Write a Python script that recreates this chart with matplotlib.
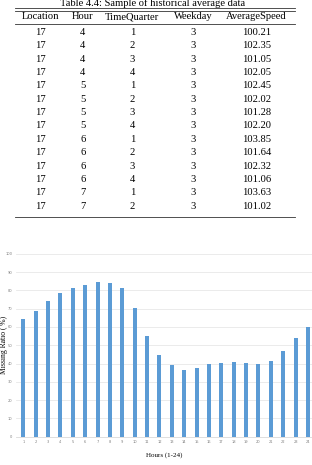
import numpy as np
import matplotlib
matplotlib.use("Agg")
import matplotlib.pyplot as plt
from matplotlib.lines import Line2D

# ==========================
# Table data
# ==========================
col_names = ["Location", "Hour", "TimeQuarter", "Weekday", "AverageSpeed"]
location = [17] * 14
hour = [4, 4, 4, 4, 5, 5, 5, 5, 6, 6, 6, 6, 7, 7]
quarter = [1, 2, 3, 4, 1, 2, 3, 4, 1, 2, 3, 4, 1, 2]
weekday = [3] * 14
avg_speed = ["100.21", "102.35", "101.05", "102.05", "102.45", "102.02", "101.28",
             "102.20", "103.85", "101.64", "102.32", "101.06", "103.63", "101.02"]

# ==========================
# Bar chart data
# ==========================
hours = np.arange(1, 25)
missing_ratio = [64.5, 68.9, 74.0, 78.5, 81.4, 83.1, 84.7, 84.2, 81.3, 70.3, 54.9, 44.6,
                 39.0, 36.6, 37.7, 39.9, 40.1, 40.8, 40.4, 39.9, 41.4, 46.7, 53.9, 60.1]

bar_blue = "#5B9BD5"
grid_gray = "#e8e8e8"
tick_gray = "#808080"
serif = ["Liberation Serif", "DejaVu Serif"]

W, H = 312, 465
fig = plt.figure(figsize=(W / 100, H / 100), dpi=100)


def fy(py):
    return 1 - py / H


def fx(px):
    return px / W


def hrule(py, x0=15, x1=295, lw=0.6):
    fig.add_artist(Line2D([fx(x0), fx(x1)], [fy(py), fy(py)], color="#333333",
                          lw=lw, transform=fig.transFigure))


# --------------------------
# Table
# --------------------------
fig.text(fx(152.5), fy(6.5), "Table 4.4: Sample of historical average data",
         ha="center", va="baseline", fontsize=7.6, family=serif)
hrule(8.3)
hrule(10.7)
hrule(24.3)

col_x = [40, 82.7, 132.3, 193.3, 256.7]
for cx, name in zip(col_x, col_names):
    fig.text(fx(cx), fy(16.8), name, ha="center", va="center", fontsize=7.6, family=serif)

row_y0, row_dy = 32.3, 13.38
for i in range(len(hour)):
    vals = [location[i], hour[i], quarter[i], weekday[i], avg_speed[i]]
    yy = row_y0 + i * row_dy
    for cx, v in zip(col_x, vals):
        fig.text(fx(cx), fy(yy), str(v), ha="center", va="center",
                 fontsize=7.6, family=serif)
hrule(217.3)

# --------------------------
# Bar chart
# --------------------------
ax_w = fx(312) - fx(16)
ax = fig.add_axes([fx(16), fy(436.7), ax_w, (436.7 - 253.7) / H])
ax.bar(hours, missing_ratio, width=0.33, color=bar_blue, zorder=3)
ax.set_xlim(0.41, 24.33)
ax.set_ylim(0, 100)
ax.set_yticks(np.arange(0, 101, 10))
ax.set_xticks(hours)
ax.yaxis.grid(True, color=grid_gray, lw=0.6, zorder=0)
for s in ["top", "right", "left"]:
    ax.spines[s].set_visible(False)
ax.spines["bottom"].set_color("#d9d9d9")
ax.spines["bottom"].set_linewidth(0.6)
ax.tick_params(axis="both", length=0, labelsize=2.6, labelcolor=tick_gray)
ax.tick_params(axis="y", pad=2.5)
ax.tick_params(axis="x", pad=2.5)
ax.set_xlabel("Hours (1-24)", fontsize=5, family=serif, labelpad=6)
ax.set_ylabel("Missing Ratio ( %)", fontsize=5.5, family=serif)
ax.yaxis.set_label_coords((8 - 16) / 296, 0.5)

fig.savefig("out.png", dpi=100)
